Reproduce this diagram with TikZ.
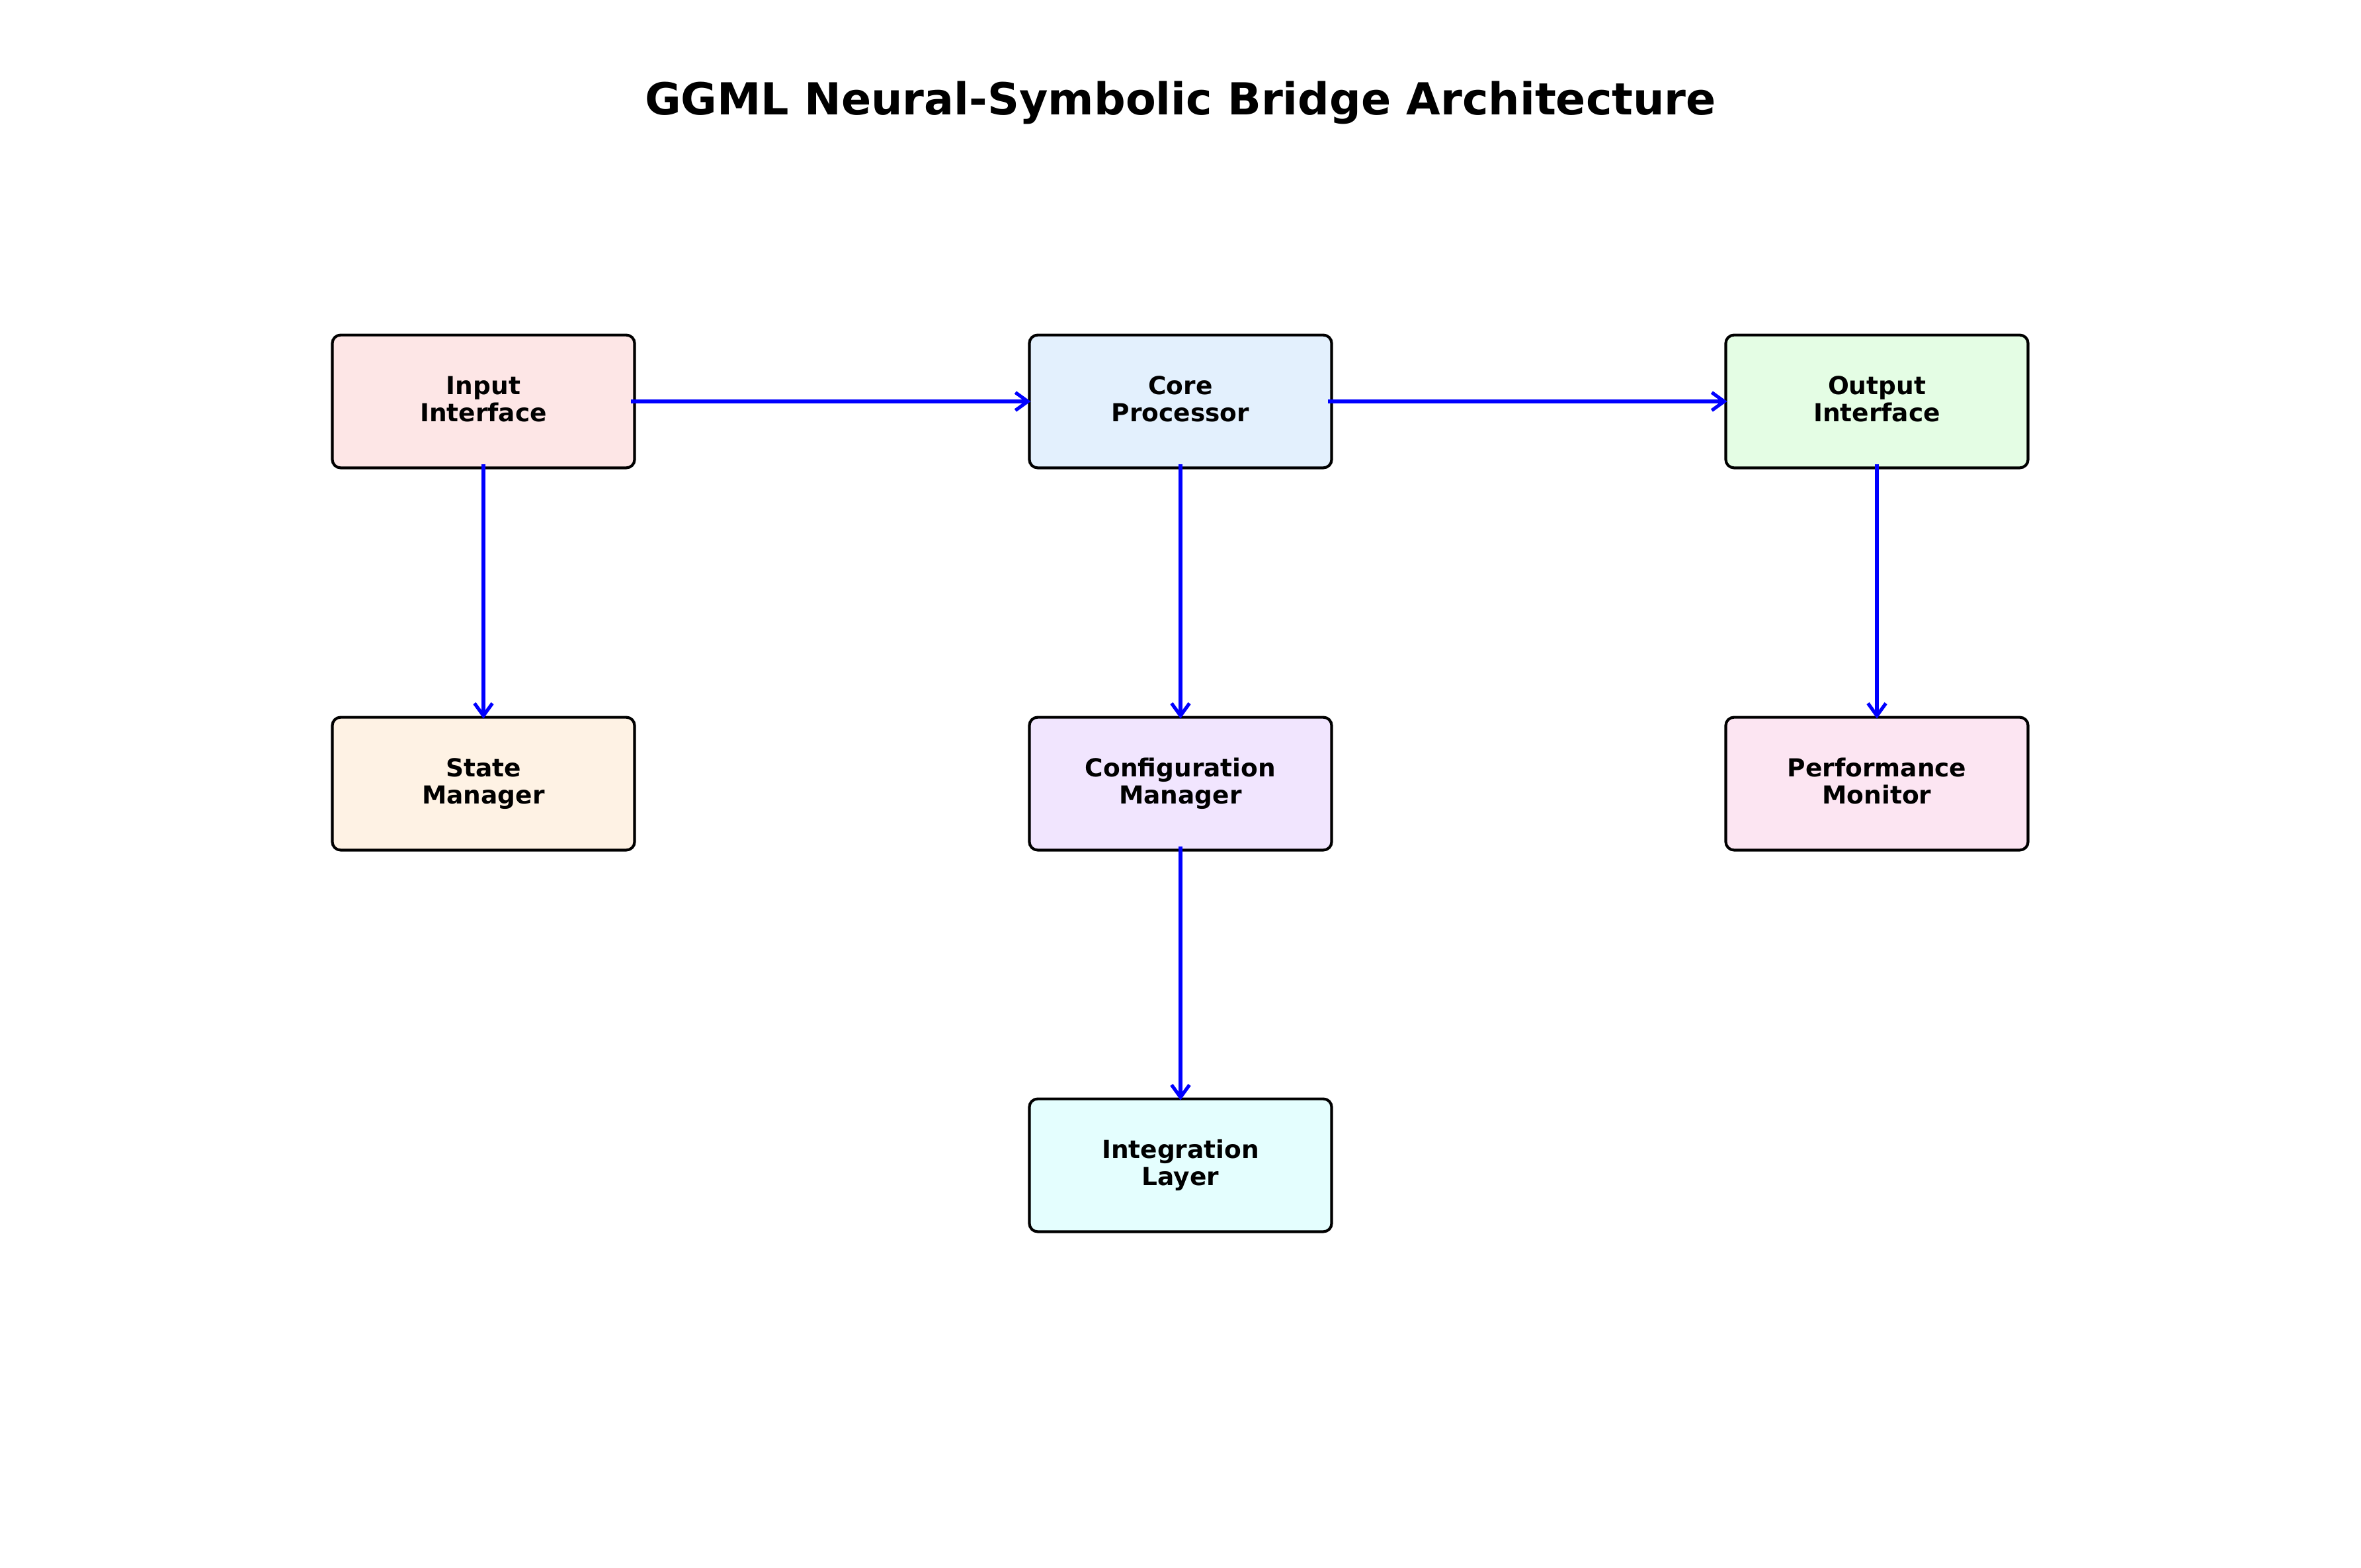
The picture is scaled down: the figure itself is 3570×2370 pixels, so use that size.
\documentclass[tikz,border=0pt]{standalone}
\usepackage{fontspec}
\setmainfont{DejaVu Sans}
\usetikzlibrary{arrows.meta}
\definecolor{cInput}{RGB}{253,230,230}
\definecolor{cCore}{RGB}{227,240,253}
\definecolor{cOutput}{RGB}{228,253,228}
\definecolor{cState}{RGB}{254,242,228}
\definecolor{cConfig}{RGB}{241,229,254}
\definecolor{cPerf}{RGB}{252,229,242}
\definecolor{cInteg}{RGB}{228,254,254}
\definecolor{arrowblue}{RGB}{0,0,255}
\newcommand{\lastline}[1]{#1\vphantom{pg}}
\tikzset{
  compbox/.style={draw=black, line width=1pt, rounded corners=3pt,
    minimum width=109.7pt, minimum height=48.2pt, inner sep=0pt,
    align=center, font=\fontsize{9}{9.9}\selectfont\bfseries},
  flow/.style={draw=arrowblue, line width=1.25pt,
    -{Straight Barb[length=4.5pt,width=6.5pt,line width=1.25pt]},
    shorten <=-1.8pt, shorten >=-1pt}
}
\begin{document}
\begin{tikzpicture}[x=0.24pt, y=-0.24pt]
\useasboundingbox[fill=white] (0,0) rectangle (3570,2370);
\node[anchor=base, font=\fontsize{16}{19}\selectfont\bfseries] (title) at (1785,173) {GGML Neural-Symbolic Bridge Architecture};
\node[compbox, fill=cInput]  (input)  at (731,607)  {Input\\\lastline{Interface}};
\node[compbox, fill=cCore]   (core)   at (1785,607) {Core\\\lastline{Processor}};
\node[compbox, fill=cOutput] (output) at (2838,607) {Output\\\lastline{Interface}};
\node[compbox, fill=cState]  (state)  at (731,1185) {State\\\lastline{Manager}};
\node[compbox, fill=cConfig] (config) at (1785,1185) {Configuration\\\lastline{Manager}};
\node[compbox, fill=cPerf]   (perf)   at (2838,1185) {Performance\\\lastline{Monitor}};
\node[compbox, fill=cInteg]  (integ)  at (1785,1762) {Integration\\\lastline{Layer}};
\draw[flow] (input.east) -- (core.west);
\draw[flow] (core.east) -- (output.west);
\draw[flow] (input.south) -- (state.north);
\draw[flow] (core.south) -- (config.north);
\draw[flow] (output.south) -- (perf.north);
\draw[flow] (config.south) -- (integ.north);
\end{tikzpicture}
\end{document}
